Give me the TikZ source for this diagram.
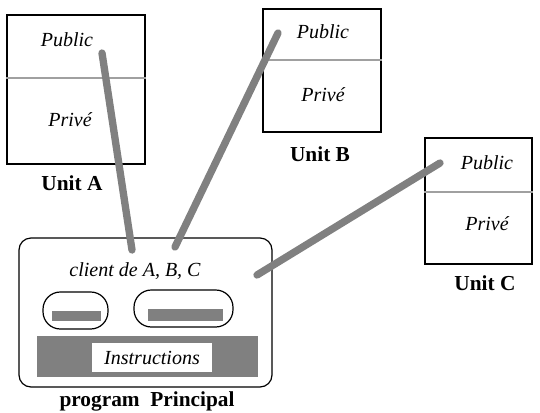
\documentclass[tikz,border=0pt]{standalone}
\usepackage{fontspec}
\setmainfont{Liberation Serif}
\usetikzlibrary{positioning}
\definecolor{cgrey}{HTML}{808080}
\definecolor{cline}{HTML}{A0A0A0}
\tikzset{
  every picture/.style={line width=0.9pt},
  unitbox/.style={draw, inner sep=0pt},
  part/.style={font=\fontsize{15}{17}\selectfont\itshape},
  unitname/.style={font=\fontsize{16}{18}\selectfont\bfseries},
  link/.style={draw=cgrey, line width=5.5pt, line cap=round},
  pill/.style={draw, rounded corners=13pt, inner sep=0pt},
  bar/.style={fill=cgrey, inner sep=0pt},
}
\begin{document}
\begin{tikzpicture}[x=0.75pt, y=-0.75pt]
  \useasboundingbox (0,0) rectangle (540,412);
  % unit A
  \node[unitbox, minimum width=103.5pt, minimum height=111.75pt] (ua) at (76,89.5) {};
  \draw[cline, line width=0.8pt] (ua.west |- 0,78) -- (ua.east |- 0,78);
  \node[part] (pubA) at (67,40) {Public};
  \node[part] (privA) at (70,120) {Privé};
  \node[unitname] (nameA) at (72,183) {Unit A};
  % unit B
  \node[unitbox, minimum width=88.5pt, minimum height=92.25pt] (ub) at (322,70.5) {};
  \draw[cline, line width=0.8pt] (ub.west |- 0,60) -- (ub.east |- 0,60);
  \node[part] (pubB) at (323,32) {Public};
  \node[part] (privB) at (323,95) {Privé};
  \node[unitname] (nameB) at (320,154) {Unit B};
  % unit C
  \node[unitbox, minimum width=80.25pt, minimum height=94.5pt] (uc) at (478.5,201) {};
  \draw[cline, line width=0.8pt] (uc.west |- 0,192) -- (uc.east |- 0,192);
  \node[part] (pubC) at (487,163) {Public};
  \node[part] (privC) at (487,224) {Privé};
  \node[unitname] (nameC) at (485,283) {Unit C};
  % programme principal
  \node[draw, rounded corners=9pt, minimum width=189.75pt, minimum height=111.75pt] (prog) at (145.5,312.5) {};
  \node[part] (client) at (135,271) {client de A, B, C};
  \node[pill, minimum width=48.75pt, minimum height=27.75pt] (pl) at (75.5,310.5) {};
  \node[bar, minimum width=36.75pt, minimum height=7.5pt] at (76.5,316) {};
  \node[pill, minimum width=74.25pt, minimum height=27.75pt] (pr) at (183.5,308.5) {};
  \node[bar, minimum width=56.25pt, minimum height=9pt] at (185.5,315) {};
  \node[bar, minimum width=165.75pt, minimum height=30.75pt] (instr) at (147.5,356.5) {};
  \node[part, fill=white, minimum width=90pt, minimum height=21.75pt, inner sep=0pt] (itext) at (152,357.5) {Instructions};
  \node[unitname] (nameP) at (147,401) {program\ \ Principal};
  % liens
  \coordinate (la) at (102,53);
  \coordinate (lb) at (278,33);
  \coordinate (lc) at (440,163);
  \coordinate (ma) at (132,250);
  \coordinate (mb) at (175,247);
  \coordinate (mc) at (257,275);
  \draw[link] (la) -- (ma);
  \draw[link] (lb) -- (mb);
  \draw[link] (lc) -- (mc);
\end{tikzpicture}
\end{document}
